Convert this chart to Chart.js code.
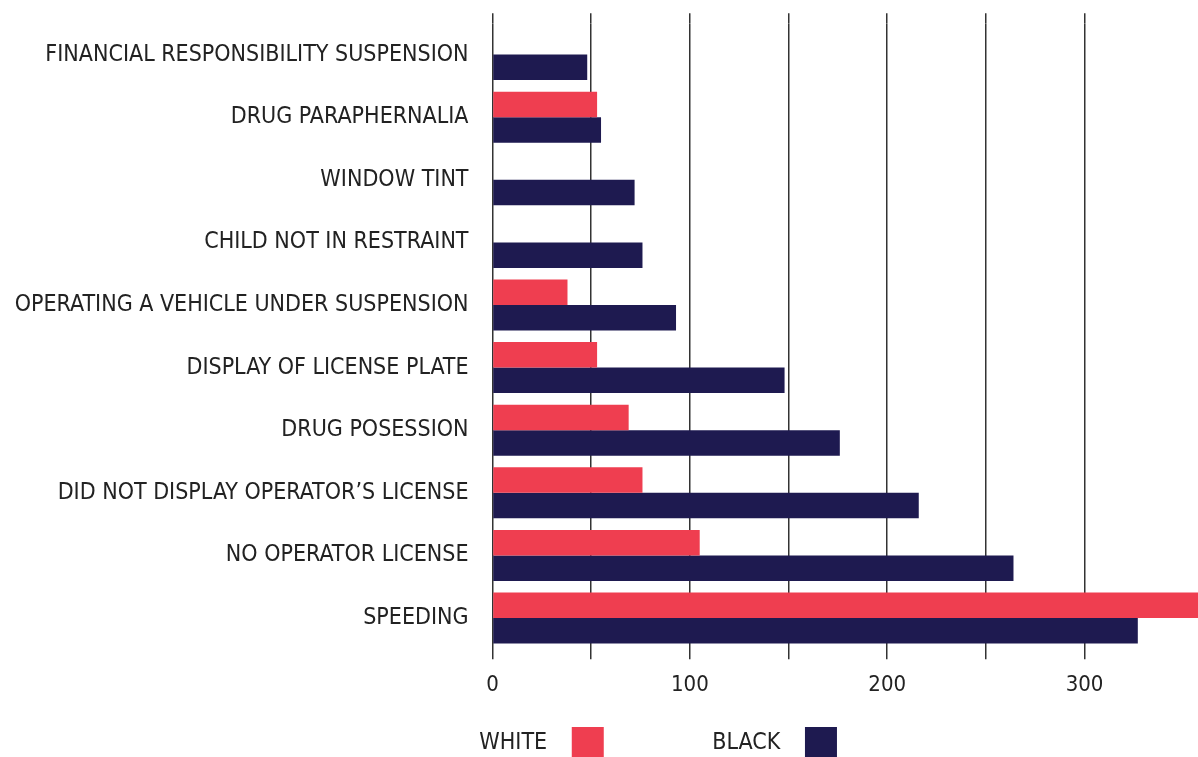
<!DOCTYPE html>
<html>
<head>
<meta charset="utf-8">
<script src="https://cdn.jsdelivr.net/npm/chart.js@4.4.1/dist/chart.umd.min.js"></script>
<style>
  html, body { margin: 0; padding: 0; background: #ffffff; overflow: hidden; }
  #wrap { position: absolute; left: 0; top: 0; width: 1198px; height: 769px; }
</style>
</head>
<body>
<div id="wrap"><canvas id="chart"></canvas></div>
<script>
const categories = [
  'FINANCIAL RESPONSIBILITY SUSPENSION',
  'DRUG PARAPHERNALIA',
  'WINDOW TINT',
  'CHILD NOT IN RESTRAINT',
  'OPERATING A VEHICLE UNDER SUSPENSION',
  'DISPLAY OF LICENSE PLATE',
  'DRUG POSESSION',
  'DID NOT DISPLAY OPERATOR\u2019S LICENSE',
  'NO OPERATOR LICENSE',
  'SPEEDING'
];
const whiteValues = [null, 53, null, null, 38, 53, 69, 76, 105, 366];
const blackValues = [48, 55, 72, 76, 93, 148, 176, 216, 264, 327];
const tickLabels = [0, 100, 200, 300];
const seriesNames = ['WHITE', 'BLACK'];

const FONT = "'DejaVu Sans Condensed', 'DejaVu Sans', sans-serif";
const RED = '#ef3e50';
const NAVY = '#1e1a50';
const GRID = '#333333';
const TEXT = '#222222';
const X_MAX = 357.5;
const LEGEND_SIZE = 23;

const keepGridTicks = (axis) => {
  axis.ticks = axis.ticks.filter(t => t.value % 50 === 0 && t.value <= 350);
};

// legend spacing expressed as whitespace (leading / trailing, in px)
const legendGaps = [
  { lead: 120, trail: 11.5 },
  { lead: 97, trail: 14.5 }
];

new Chart(document.getElementById('chart'), {
  type: 'bar',
  data: {
    labels: categories,
    datasets: [
      { label: seriesNames[0], data: whiteValues, backgroundColor: RED, borderWidth: 0,
        categoryPercentage: 0.815, barPercentage: 1 },
      { label: seriesNames[1], data: blackValues, backgroundColor: NAVY, borderWidth: 0,
        categoryPercentage: 0.815, barPercentage: 1 }
    ]
  },
  options: {
    indexAxis: 'y',
    responsive: true,
    maintainAspectRatio: false,
    animation: false,
    layout: { padding: 0 },
    scales: {
      x: {
        type: 'linear',
        position: 'bottom',
        min: 0,
        max: X_MAX,
        afterBuildTicks: keepGridTicks,
        afterFit: (s) => { s.height = 67.7; },
        ticks: {
          stepSize: 50,
          padding: 13,
          color: TEXT,
          font: { family: FONT, size: 22 },
          maxRotation: 0,
          autoSkip: false,
          callback: (v) => tickLabels.includes(v) ? String(v) : ''
        },
        grid: { color: GRID, lineWidth: 1.5, tickLength: 10, drawTicks: true },
        border: { display: false }
      },
      x2: {
        type: 'linear',
        position: 'top',
        min: 0,
        max: X_MAX,
        afterBuildTicks: keepGridTicks,
        afterFit: (s) => { s.height = 23.3; },
        ticks: { display: false, stepSize: 50 },
        grid: { color: GRID, lineWidth: 1.5, tickLength: 10, drawOnChartArea: false, drawTicks: true },
        border: { display: false }
      },
      y: {
        type: 'category',
        afterFit: (s) => { s.width = 492.5; s.paddingTop = 0; s.paddingBottom = 0; },
        ticks: {
          padding: 24,
          color: TEXT,
          font: { family: FONT, size: 23 },
          autoSkip: false
        },
        grid: { display: false, drawTicks: false },
        border: { display: false }
      }
    },
    plugins: {
      tooltip: { enabled: false },
      legend: {
        position: 'bottom',
        align: 'center',
        rtl: true,
        reverse: true,
        textDirection: 'ltr',
        labels: {
          boxWidth: 32,
          boxHeight: 32,
          padding: 10,
          color: TEXT,
          font: { family: FONT, size: LEGEND_SIZE },
          generateLabels: (chart) => {
            const items = Chart.defaults.plugins.legend.labels.generateLabels(chart);
            const ctx = chart.ctx;
            ctx.save();
            ctx.font = LEGEND_SIZE + 'px ' + FONT;
            const sw = ctx.measureText(' ').width || 6;
            ctx.restore();
            items.forEach(it => {
              const g = legendGaps[it.datasetIndex];
              it.lineWidth = 0;
              it.strokeStyle = 'rgba(0,0,0,0)';
              it.text = ' '.repeat(Math.round(g.lead / sw)) + it.text + ' '.repeat(Math.round(g.trail / sw));
            });
            return items;
          }
        }
      }
    }
  }
});
</script>
</body>
</html>
